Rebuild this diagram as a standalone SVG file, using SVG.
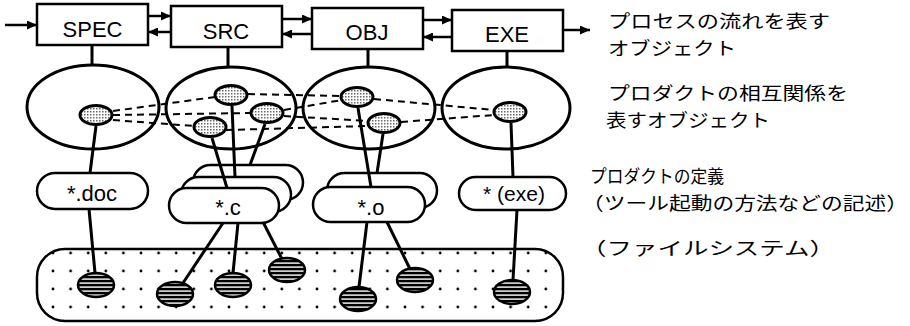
<svg xmlns="http://www.w3.org/2000/svg" width="910" height="326" viewBox="0 0 910 326">
<style>
.box{fill:#fff;stroke:#000;stroke-width:2.5}
.lbl{font-family:"Liberation Sans",Arial,sans-serif;font-size:22px;text-anchor:middle;fill:#000}
.big{fill:none;stroke:#000;stroke-width:3}
.small{fill:url(#stip);stroke:#000;stroke-width:3}
.file{fill:url(#stripe);stroke:#000;stroke-width:2.5}
.con{stroke:#000;stroke-width:3;fill:none}
.arr{stroke:#000;stroke-width:2.5;fill:none;marker-end:url(#ah)}
.dash{stroke:#000;stroke-width:2;fill:none;stroke-dasharray:7 5}
.jp{font-family:"Noto Sans CJK JP","Noto Sans",sans-serif;font-size:18px;fill:#000}
</style>
<defs>
<marker id="ah" markerUnits="userSpaceOnUse" markerWidth="11" markerHeight="9" refX="10" refY="4.5" orient="auto">
<path d="M0,0 L10,4.5 L0,9 z" fill="#000"/>
</marker>
<pattern id="stip" width="3" height="3" patternUnits="userSpaceOnUse">
<rect width="3" height="3" fill="#fff"/><rect width="1.5" height="1.5" fill="#666"/>
</pattern>
<pattern id="stripe" width="4" height="4" patternUnits="userSpaceOnUse">
<rect width="4" height="4" fill="#000"/><rect y="2.4" width="4" height="1.4" fill="#fff"/>
</pattern>
<pattern id="dots" x="44.2" y="244" width="17.6" height="18" patternUnits="userSpaceOnUse">
<rect width="17.6" height="18" fill="#fff"/><circle cx="8.8" cy="9" r="1.4" fill="#000"/>
</pattern>
</defs>
<rect width="910" height="326" fill="#fff"/>

<g id="filesystem"><rect x="37" y="249" width="526" height="72" rx="28" ry="28" fill="url(#dots)" stroke="#000" stroke-width="2.5"/></g>

<g id="nodes">
<g id="spec"><rect class="box" x="37" y="4" width="111" height="41"/><text class="lbl" x="92.5" y="37">SPEC</text></g>
<g id="src"><rect class="box" x="171" y="6" width="111" height="41"/><text class="lbl" x="226" y="39">SRC</text></g>
<g id="obj"><rect class="box" x="312" y="8" width="111" height="41"/><text class="lbl" x="367" y="40">OBJ</text></g>
<g id="exe"><rect class="box" x="452" y="10" width="111" height="41"/><text class="lbl" x="507" y="42">EXE</text></g>

<g id="rel-spec"><ellipse class="big" cx="93" cy="107" rx="66" ry="42"/></g>
<g id="rel-src"><ellipse class="big" cx="231" cy="108" rx="65" ry="41"/></g>
<g id="rel-obj"><ellipse class="big" cx="369" cy="108" rx="66" ry="41"/></g>
<g id="rel-exe"><ellipse class="big" cx="506" cy="108" rx="64" ry="41"/></g>

<g id="p-spec"><ellipse class="small" cx="96" cy="115" rx="16" ry="9.5"/></g>
<g id="p-src1"><ellipse class="small" cx="231" cy="95" rx="16" ry="9.5"/></g>
<g id="p-src2"><ellipse class="small" cx="267" cy="113" rx="16" ry="9.5"/></g>
<g id="p-src3"><ellipse class="small" cx="210" cy="127" rx="16" ry="9.5"/></g>
<g id="p-obj1"><ellipse class="small" cx="357" cy="97" rx="16" ry="9.5"/></g>
<g id="p-obj2"><ellipse class="small" cx="384" cy="123" rx="16" ry="9.5"/></g>
<g id="p-exe"><ellipse class="small" cx="510" cy="112" rx="16" ry="9.5"/></g>

<g id="def-doc"><rect class="box" x="37" y="173" width="111" height="36" rx="18"/><text class="lbl" x="92" y="201">*.doc</text></g>
<g id="def-c"><rect class="box" x="193" y="165" width="110" height="35" rx="17.5"/><rect class="box" x="181" y="177" width="110" height="35" rx="17.5"/><rect class="box" x="169" y="188" width="110" height="35" rx="17.5"/><text class="lbl" x="228" y="215">*.c</text></g>
<g id="def-o"><rect class="box" x="327" y="173" width="110" height="35" rx="17.5"/><rect class="box" x="313" y="187" width="112" height="35" rx="17.5"/><text class="lbl" x="371" y="215">*.o</text></g>
<g id="def-exe"><rect class="box" x="459" y="177" width="107" height="33" rx="16.5"/><text class="lbl" x="514" y="201" style="font-size:21px">* (exe)</text></g>

<g id="f-doc"><ellipse class="file" cx="96" cy="285" rx="18" ry="12"/></g>
<g id="f-c1"><ellipse class="file" cx="175" cy="294" rx="18" ry="12"/></g>
<g id="f-c2"><ellipse class="file" cx="233" cy="285" rx="18" ry="12"/></g>
<g id="f-c3"><ellipse class="file" cx="287" cy="270" rx="18" ry="12"/></g>
<g id="f-o1"><ellipse class="file" cx="358" cy="299" rx="18" ry="12"/></g>
<g id="f-o2"><ellipse class="file" cx="415" cy="280" rx="18" ry="12"/></g>
<g id="f-exe"><ellipse class="file" cx="512" cy="292" rx="18" ry="12"/></g>
</g>

<g id="connectors">
<line class="arr" x1="5" y1="25" x2="37" y2="25"/>
<line class="arr" x1="148" y1="16" x2="171" y2="16"/>
<line class="arr" x1="171" y1="32" x2="148" y2="32"/>
<line class="arr" x1="282" y1="19" x2="312" y2="19"/>
<line class="arr" x1="312" y1="34" x2="282" y2="34"/>
<line class="arr" x1="423" y1="20" x2="452" y2="20"/>
<line class="arr" x1="452" y1="37" x2="423" y2="37"/>
<line class="arr" x1="563" y1="30" x2="590" y2="30"/>

<line class="con" x1="92" y1="45" x2="92" y2="65"/>
<line class="con" x1="228" y1="47" x2="228" y2="67"/>
<line class="con" x1="368" y1="49" x2="368" y2="67"/>
<line class="con" x1="507" y1="51" x2="507" y2="67"/>

<line class="dash" x1="113" y1="111" x2="215" y2="97"/>
<line class="dash" x1="113" y1="115" x2="251" y2="113"/>
<line class="dash" x1="113" y1="120" x2="194" y2="126"/>
<line class="dash" x1="248" y1="94" x2="341" y2="96"/>
<line class="dash" x1="284" y1="110" x2="342" y2="100"/>
<line class="dash" x1="284" y1="116" x2="368" y2="121"/>
<line class="dash" x1="226" y1="130" x2="368" y2="126"/>
<line class="dash" x1="374" y1="99" x2="494" y2="110"/>
<line class="dash" x1="401" y1="122" x2="494" y2="115"/>

<line class="con" x1="96" y1="126" x2="90" y2="173"/>
<line class="con" x1="212" y1="138" x2="227" y2="188"/>
<line class="con" x1="232" y1="106" x2="235" y2="177"/>
<line class="con" x1="265" y1="124" x2="250" y2="165"/>
<line class="con" x1="358" y1="108" x2="371" y2="187"/>
<line class="con" x1="383" y1="134" x2="377" y2="173"/>
<line class="con" x1="511" y1="123" x2="513" y2="177"/>

<line class="con" x1="89" y1="209" x2="95" y2="273"/>
<line class="con" x1="223" y1="223" x2="183" y2="283"/>
<line class="con" x1="238" y1="223" x2="233" y2="273"/>
<line class="con" x1="263" y1="222" x2="282" y2="259"/>
<line class="con" x1="367" y1="222" x2="359" y2="287"/>
<line class="con" x1="387" y1="222" x2="410" y2="269"/>
<line class="con" x1="517" y1="210" x2="513" y2="280"/>
</g>

<g id="legend">
<text class="jp" x="608" y="28" textLength="222" lengthAdjust="spacingAndGlyphs">プロセスの流れを表す</text>
<text class="jp" x="608" y="55" textLength="128" lengthAdjust="spacingAndGlyphs">オブジェクト</text>
<text class="jp" x="608" y="100" textLength="240" lengthAdjust="spacingAndGlyphs">プロダクトの相互関係を</text>
<text class="jp" x="606" y="127" textLength="164" lengthAdjust="spacingAndGlyphs">表すオブジェクト</text>
<text class="jp" x="590" y="183" textLength="134" lengthAdjust="spacingAndGlyphs">プロダクトの定義</text>
<text class="jp" x="582" y="210" textLength="326" lengthAdjust="spacingAndGlyphs">（ツール起動の方法などの記述）</text>
<text class="jp" x="581" y="255" textLength="254" lengthAdjust="spacingAndGlyphs">（ファイルシステム）</text>
</g>
</svg>
